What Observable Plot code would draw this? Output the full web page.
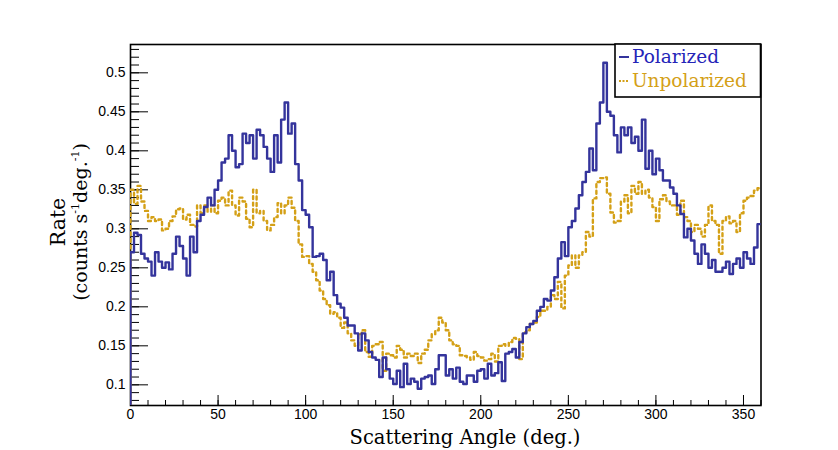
<!DOCTYPE html>
<html>
<head>
<meta charset="utf-8">
<script src="https://cdn.jsdelivr.net/npm/d3@7"></script>
<script src="https://cdn.jsdelivr.net/npm/@observablehq/plot@0.6"></script>
<style>
  html, body { margin: 0; padding: 0; background: #fff; }
  #chart svg { display: block; }
</style>
</head>
<body>
<div id="chart"></div>
<script>
// Bin width in degrees and bin start angles
const binWidth = 2;
const angles = d3.range(0, 360, binWidth);

// Rate per bin (counts s^-1 deg^-1)
const polarized = [
  0.270, 0.295, 0.292, 0.268, 0.262, 0.258, 0.240, 0.270, 0.258, 0.250,
  0.257, 0.248, 0.268, 0.290, 0.278, 0.262, 0.240, 0.290, 0.270, 0.310,
  0.318, 0.328, 0.340, 0.330, 0.350, 0.362, 0.385, 0.390, 0.420, 0.400,
  0.379, 0.383, 0.422, 0.410, 0.420, 0.390, 0.427, 0.420, 0.405, 0.390,
  0.373, 0.420, 0.385, 0.440, 0.462, 0.422, 0.435, 0.383, 0.362, 0.324,
  0.318, 0.302, 0.264, 0.265, 0.268, 0.260, 0.234, 0.245, 0.215, 0.204,
  0.199, 0.186, 0.176, 0.176, 0.166, 0.144, 0.166, 0.157, 0.142, 0.135,
  0.132, 0.110, 0.135, 0.120, 0.108, 0.101, 0.118, 0.097, 0.127, 0.101,
  0.108, 0.104, 0.095, 0.108, 0.110, 0.112, 0.101, 0.120, 0.138, 0.138,
  0.112, 0.120, 0.108, 0.122, 0.104, 0.101, 0.112, 0.112, 0.104, 0.118,
  0.120, 0.108, 0.127, 0.112, 0.115, 0.129, 0.105, 0.140, 0.142, 0.146,
  0.135, 0.155, 0.166, 0.174, 0.178, 0.182, 0.195, 0.200, 0.210, 0.208,
  0.221, 0.238, 0.262, 0.283, 0.265, 0.302, 0.310, 0.326, 0.343, 0.360,
  0.373, 0.403, 0.375, 0.435, 0.462, 0.513, 0.450, 0.445, 0.420, 0.398,
  0.430, 0.420, 0.430, 0.410, 0.418, 0.400, 0.440, 0.377, 0.400, 0.370,
  0.390, 0.375, 0.362, 0.362, 0.353, 0.345, 0.330, 0.319, 0.289, 0.300,
  0.285, 0.268, 0.255, 0.280, 0.268, 0.250, 0.260, 0.245, 0.245, 0.250,
  0.258, 0.242, 0.255, 0.262, 0.250, 0.270, 0.262, 0.255, 0.276, 0.306
];
const unpolarized = [
  0.350, 0.332, 0.355, 0.335, 0.323, 0.310, 0.315, 0.310, 0.312, 0.298,
  0.300, 0.310, 0.316, 0.325, 0.326, 0.312, 0.318, 0.305, 0.303, 0.330,
  0.320, 0.330, 0.322, 0.330, 0.320, 0.336, 0.340, 0.330, 0.349, 0.330,
  0.317, 0.340, 0.335, 0.313, 0.302, 0.350, 0.320, 0.323, 0.310, 0.298,
  0.305, 0.315, 0.333, 0.320, 0.330, 0.340, 0.327, 0.310, 0.280, 0.264,
  0.265, 0.255, 0.245, 0.234, 0.221, 0.210, 0.202, 0.191, 0.193, 0.186,
  0.173, 0.180, 0.166, 0.157, 0.150, 0.165, 0.170, 0.142, 0.136, 0.150,
  0.152, 0.155, 0.118, 0.140, 0.138, 0.135, 0.150, 0.145, 0.135, 0.140,
  0.137, 0.140, 0.128, 0.140, 0.145, 0.157, 0.165, 0.170, 0.186, 0.180,
  0.170, 0.157, 0.152, 0.150, 0.138, 0.137, 0.135, 0.132, 0.142, 0.137,
  0.135, 0.131, 0.133, 0.140, 0.130, 0.150, 0.152, 0.150, 0.155, 0.160,
  0.159, 0.133, 0.167, 0.170, 0.178, 0.180, 0.187, 0.195, 0.195, 0.200,
  0.215, 0.210, 0.232, 0.198, 0.240, 0.253, 0.266, 0.250, 0.266, 0.270,
  0.296, 0.290, 0.339, 0.360, 0.365, 0.366, 0.345, 0.321, 0.308, 0.310,
  0.335, 0.343, 0.320, 0.355, 0.345, 0.360, 0.345, 0.350, 0.340, 0.328,
  0.310, 0.338, 0.343, 0.335, 0.330, 0.330, 0.318, 0.336, 0.315, 0.310,
  0.296, 0.305, 0.300, 0.290, 0.305, 0.330, 0.310, 0.305, 0.268, 0.310,
  0.316, 0.307, 0.310, 0.296, 0.320, 0.336, 0.340, 0.342, 0.349, 0.352
];

// Axis ticks and labels
const xMajor = [0, 50, 100, 150, 200, 250, 300, 350];
const xMinor = d3.range(0, 361, 10);
const yMajor = [0.1, 0.15, 0.2, 0.25, 0.3, 0.35, 0.4, 0.45, 0.5];
const yMinor = d3.range(8, 54).map(i => i / 100);
const xTitle = "Scattering Angle (deg.)";
const seriesNames = ["Polarized", "Unpolarized"];
const seriesColors = ["#34349c", "#d4a017"];
const legendTextColors = ["#2424b8", "#d4a017"];

// Histogram outline: rise from the baseline at the first edge, then one step per bin
function outline(values, name) {
  const pts = [{x: angles[0], y: 0, s: name}];
  values.forEach((v, i) => pts.push({x: angles[i], y: v, s: name}));
  pts.push({x: angles[angles.length - 1] + binWidth, y: values[values.length - 1], s: name});
  return pts;
}
const polData = outline(polarized, seriesNames[0]);
const unpData = outline(unpolarized, seriesNames[1]);

const W = 838, H = 450;
const mL = 130, mR = 77.5, mT = 44, mB = 45;
const fw = W - mL - mR, fh = H - mT - mB;

const plot = Plot.plot({
  width: W,
  height: H,
  marginLeft: mL,
  marginRight: mR,
  marginTop: mT,
  marginBottom: mB,
  style: {fontFamily: "'Liberation Sans', Arial, sans-serif", background: "white"},
  x: {domain: [0, 360], label: null, axis: null},
  y: {domain: [0.0735, 0.5363], label: null, axis: null},
  marks: [
    // inward minor / major ticks
    Plot.tickX(xMinor, {x: d => d, insetTop: fh - 5, stroke: "black", strokeWidth: 1}),
    Plot.tickX(xMajor, {x: d => d, insetTop: fh - 10, stroke: "black", strokeWidth: 1}),
    Plot.tickY(yMinor, {y: d => d, insetRight: fw - 9, stroke: "black", strokeWidth: 1}),
    Plot.tickY(yMajor, {y: d => d, insetRight: fw - 18, stroke: "black", strokeWidth: 1}),
    // labels
    Plot.axisX(xMajor, {tickSize: 0, tickPadding: 4, fontSize: 14, fill: "black", label: null, tickFormat: d => String(d)}),
    Plot.axisY(yMajor, {tickSize: 0, tickPadding: 5, fontSize: 14, fill: "black", label: null, tickFormat: d => String(d)}),
    Plot.frame({stroke: "black", strokeWidth: 1.6}),
    Plot.line(unpData, {x: "x", y: "y", curve: "step-after", stroke: seriesColors[1], strokeWidth: 2.4, strokeDasharray: "3,3.5", clip: true}),
    Plot.line(polData, {x: "x", y: "y", curve: "step-after", stroke: seriesColors[0], strokeWidth: 2.4, clip: true})
  ]
});

document.getElementById("chart").appendChild(plot);

const svg = d3.select(plot);
const serif = "'DejaVu Serif', serif";

// X title
svg.append("text")
  .attr("x", 465).attr("y", 444)
  .attr("text-anchor", "middle")
  .attr("font-family", serif).attr("font-size", 19.5).attr("fill", "black")
  .text(xTitle);

// Y title (two lines, rotated)
svg.append("text")
  .attr("transform", "translate(65,222) rotate(-90)")
  .attr("text-anchor", "middle")
  .attr("font-family", serif).attr("font-size", 20.5).attr("fill", "black")
  .text("Rate");
const yt = svg.append("text")
  .attr("transform", "translate(87,222) rotate(-90)")
  .attr("text-anchor", "middle")
  .attr("font-family", serif).attr("font-size", 19).attr("fill", "black");
yt.append("tspan").text("(counts s");
yt.append("tspan").attr("font-size", 11).attr("dy", -8).text("-1");
yt.append("tspan").attr("dy", 8).text("deg.");
yt.append("tspan").attr("font-size", 11).attr("dy", -8).text("-1");
yt.append("tspan").attr("dy", 8).text(")");

// Legend box
const lg = svg.append("g");
lg.append("rect")
  .attr("x", 615).attr("y", 44).attr("width", 760.5 - 615).attr("height", 53)
  .attr("fill", "white").attr("stroke", "black").attr("stroke-width", 1.6);
const rows = [57, 81];
seriesNames.forEach((name, i) => {
  lg.append("line")
    .attr("x1", 619).attr("x2", 629).attr("y1", rows[i]).attr("y2", rows[i])
    .attr("stroke", seriesColors[i]).attr("stroke-width", 2)
    .attr("stroke-dasharray", i === 1 ? "2,1.5" : null);
  lg.append("text")
    .attr("x", 632).attr("y", rows[i] + 6)
    .attr("text-anchor", "start")
    .attr("font-family", serif).attr("font-size", 18.5)
    .attr("fill", legendTextColors[i])
    .text(name);
});
</script>
</body>
</html>
